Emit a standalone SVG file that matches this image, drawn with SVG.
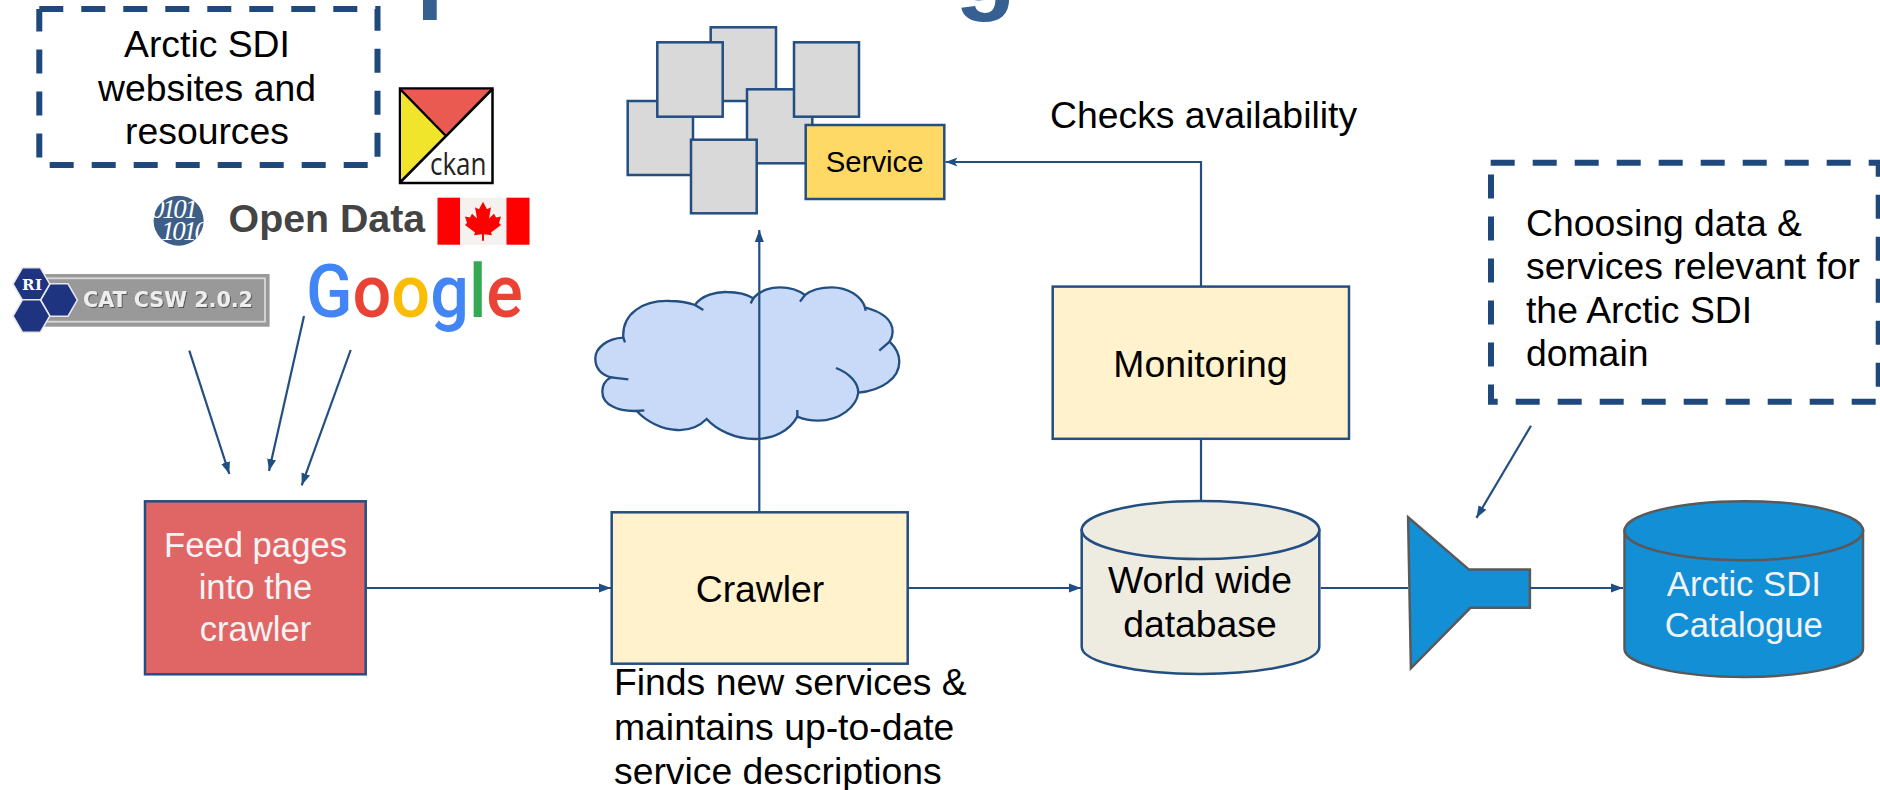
<svg xmlns="http://www.w3.org/2000/svg" width="1880" height="790" viewBox="0 0 1880 790">
<style>
text{font-family:"Liberation Sans",Arial,sans-serif;fill:#000;font-size:37.33px}
.c{text-anchor:middle}
.w{fill:#f3f3f3;font-size:34.67px}
.box{stroke:#224e82;stroke-width:2.5}
.sq{fill:#d9d9d9;stroke:#224e82;stroke-width:2.5}
.dash{fill:none;stroke:#1f497d;stroke-width:6;stroke-dasharray:24 18}
.cyl{stroke:#224e82;stroke-width:2.5}
.gry{stroke:#595959;stroke-width:2.5;fill:#138fd6}
.ln{fill:none;stroke:#224e82;stroke-width:2.2}
.hex{fill:#1e3480;stroke:#e8e8e8;stroke-width:1.5}
.title{font-weight:700;font-size:100px;fill:#366092}
.bin{font-family:"Liberation Serif",serif;font-style:italic;font-size:27px;fill:#fff}
</style>
<defs>
<marker id="ah" markerUnits="userSpaceOnUse" markerWidth="13" markerHeight="11" refX="12" refY="5" orient="auto"><path d="M0,.5L12,5L0,9.5Z" fill="#1f4e82"/></marker>
<marker id="st" markerUnits="userSpaceOnUse" markerWidth="13" markerHeight="11" refX="12" refY="5" orient="auto"><path d="M0,.5L12,5L0,9.5L3,5Z" fill="#1f4e82"/></marker>
<filter id="sh" x="-5%" y="-20%" width="110%" height="140%"><feDropShadow dx="1" dy="1" stdDeviation=".6" flood-color="#555"/></filter>
<clipPath id="disc"><ellipse cx="178.6" cy="220.7" rx="25" ry="25"/></clipPath>
</defs>

<g id="title-fragments"><text class="title" x="416" y="-1.5">p</text><text class="title" x="955" y="1">g</text></g>

<g id="websites-box">
<path class="dash" d="M39.3,9H377.5V165H39.3V9"/>
<text class="c" x="207" y="56.7">Arctic SDI</text><text class="c" x="207" y="100.5">websites and</text><text class="c" x="207" y="144">resources</text>
</g>

<g id="ckan-logo">
<rect x="400" y="88.5" width="92.5" height="94.5" fill="#fff" stroke="#000" stroke-width="2.5"/>
<path d="M402,90L491,90L445,135Z" fill="#ea5a50"/><path d="M401,91L445,135L401,180Z" fill="#f0e52a"/>
<path d="M401,90L445,135M401,181.5L492,89.5" stroke="#000" stroke-width="2.5" fill="none"/>
<text x="430" y="175" style="font-family:'Open Sans',sans-serif;font-size:31px;fill:#222" textLength="56.5" lengthAdjust="spacingAndGlyphs">ckan</text>
</g>

<g id="open-data-logo">
<ellipse cx="178.6" cy="220.7" rx="25" ry="25" fill="#3d5f87"/>
<g clip-path="url(#disc)"><text class="bin" x="151" y="218" textLength="47">0101</text><text class="bin" x="161" y="240" textLength="47">1010</text></g>
<text x="228.6" y="231.7" style="font-weight:700;font-size:38px;fill:#444" textLength="196.5" lengthAdjust="spacingAndGlyphs">Open Data</text>
<rect x="437.5" y="197.7" width="92" height="47" fill="#f4f1ef"/>
<rect x="437.5" y="197.7" width="22.5" height="47" fill="#f00"/><rect x="506.5" y="197.7" width="23" height="47" fill="#f00"/>
<path transform="translate(0 201.7) scale(1 .93) translate(0 -216)" d="M483,216L487,224L491,222L489,234L494,229L496,233L501,232L499,239L501,241L491,249L492,252L484,251L484,258L482,258L482,251L474,252L475,249L465,241L467,239L465,232L470,233L472,229L477,234L475,222L479,224Z" fill="#f00"/>
</g>

<g id="csw-badge">
<rect x="43" y="274" width="226.6" height="52.7" fill="#999"/>
<rect x="43" y="278.3" width="222" height="43.4" fill="none" stroke="#d8d8d8" stroke-width="1.8"/>
<path class="hex" d="M40.6,300L50,283.8H68L77.4,300L68,316.2H50Z"/>
<path class="hex" d="M13,284L22.4,267.8H40.4L49.8,284L40.4,300.2H22.4Z"/>
<path class="hex" d="M13,316L22.4,299.8H40.4L49.8,316L40.4,332.2H22.4Z"/>
<text x="22" y="290" style="font-family:'DejaVu Serif',serif;font-weight:700;font-size:15px;fill:#fff" textLength="20">RI</text>
<text x="83" y="307.3" style="font-family:'DejaVu Sans',sans-serif;font-weight:700;font-size:21px;fill:#eee" textLength="170" lengthAdjust="spacingAndGlyphs" filter="url(#sh)">CAT CSW 2.0.2</text>
</g>

<g id="google-logo"><text x="306" y="317" style="font-family:Roboto,sans-serif;font-weight:500;font-size:75px" textLength="217" lengthAdjust="spacingAndGlyphs"><tspan style="fill:#4285f4">G</tspan><tspan style="fill:#ea4335">o</tspan><tspan style="fill:#fbbc05">o</tspan><tspan style="fill:#4285f4">g</tspan><tspan style="fill:#34a853">l</tspan><tspan style="fill:#ea4335">e</tspan></text></g>

<g id="squares">
<rect class="sq" x="710.7" y="27.3" width="65.3" height="73.7"/>
<rect class="sq" x="627.7" y="101" width="65.3" height="74"/>
<rect class="sq" x="657.3" y="42.3" width="65.4" height="74.4"/>
<rect class="sq" x="747" y="89.3" width="65.3" height="74"/>
<rect class="sq" x="794" y="42.3" width="65" height="74.4"/>
<rect class="sq" x="691" y="139.7" width="65.7" height="73.6"/>
</g>

<g id="service"><rect class="box" x="805.7" y="125" width="138.6" height="74" fill="#ffd966"/><text class="c" x="874.7" y="171.7" style="font-size:29.33px">Service</text></g>

<g id="cloud"><g transform="translate(580 270) scale(.3333)" fill="none" stroke="#224e82" stroke-width="7">
<path fill="#c9daf8" d="M130,203C125,130 190,90 270,93C300,93 325,98 345,105C365,75 410,65 440,66C475,66 500,72 520,85C540,60 575,52 600,52C630,52 655,60 675,75C700,55 730,52 755,52C805,52 845,80 855,112C905,125 938,150 938,185C938,195 935,205 929,215C950,235 958,255 958,275C958,325 905,362 835,368C830,410 780,452 715,452C690,452 670,448 652,440C630,480 585,507 525,507C465,507 410,480 380,447C355,472 320,482 290,480C245,478 200,455 170,423C115,425 67,405 67,365C67,345 78,330 93,322C65,315 45,295 46,265C46,235 80,205 130,203Z"/>
<path d="M130,203L135,217M345,105L370,120M512,100L520,85M660,95L675,75M855,112L857,122M929,215L898,242M768,294C810,310 835,340 835,368M652,420L652,440M170,423L193,421M93,322L145,328"/>
</g></g>

<g id="feed"><rect class="box" x="145" y="501.3" width="220.7" height="173" fill="#e06666"/><text class="c w" x="255.5" y="557.3">Feed pages</text><text class="c w" x="255.5" y="599.3">into the</text><text class="c w" x="255.5" y="641">crawler</text></g>

<g id="crawler"><rect class="box" x="611.7" y="512.3" width="296" height="151.4" fill="#fff2cc"/><text class="c" x="760" y="602">Crawler</text></g>
<g id="crawler-note"><text x="614" y="695">Finds new services &amp;</text><text x="614" y="740">maintains up-to-date</text><text x="614" y="784">service descriptions</text></g>

<g id="monitoring"><rect class="box" x="1052.7" y="286.6" width="296.3" height="152.2" fill="#fff2cc"/><text class="c" x="1200.5" y="376.5">Monitoring</text></g>
<g id="checks-label"><text x="1050" y="128">Checks availability</text></g>

<g id="world-db"><path class="cyl" fill="#eeece1" d="M1081.7,530V646.7C1081.7,662 1135,674 1200.5,674C1266,674 1319.3,662 1319.3,646.7V530Z"/><ellipse class="cyl" cx="1200.5" cy="530" rx="118.8" ry="29" fill="#eeece1"/><text class="c" x="1200" y="593.3">World wide</text><text class="c" x="1200" y="637.3">database</text></g>

<g id="filter-funnel"><path class="gry" d="M1408.1,517.2L1469,569.6H1529.9V607.8H1470.4L1410.9,668.3Z"/></g>

<g id="arctic-catalogue"><path class="gry" d="M1624.5,530.7V649C1624.5,664 1678,677 1743.8,677C1809.5,677 1863,664 1863,649V530.7Z"/><ellipse class="gry" cx="1743.8" cy="530.7" rx="119.3" ry="29.5"/><text class="c w" x="1743.8" y="595.6">Arctic SDI</text><text class="c w" x="1743.8" y="637">Catalogue</text></g>

<g id="choosing-box"><path class="dash" d="M1490.7,162.7H1878.7V401.7H1491V162.7"/><text x="1526" y="236">Choosing data &amp;</text><text x="1526" y="279">services relevant for</text><text x="1526" y="323">the Arctic SDI</text><text x="1526" y="366">domain</text></g>

<g id="connectors">
<path class="ln" marker-end="url(#ah)" d="M189.3,350.7L229.3,474"/>
<path class="ln" marker-end="url(#ah)" d="M304,316L269,471"/>
<path class="ln" marker-end="url(#ah)" d="M350.7,350L301.7,485.3"/>
<path class="ln" marker-end="url(#ah)" d="M366,588H611"/>
<path class="ln" marker-end="url(#ah)" d="M908,588H1081"/>
<path class="ln" d="M1320.7,588H1408"/>
<path class="ln" marker-end="url(#ah)" d="M1530,588H1623"/>
<path class="ln" marker-end="url(#ah)" d="M759.3,512V230"/>
<path class="ln" d="M1201,438.8V501"/>
<path class="ln" marker-end="url(#st)" d="M1201,286.6V162H945.5"/>
<path class="ln" marker-end="url(#ah)" d="M1531,425.7L1476.4,517.9"/>
</g>
</svg>
